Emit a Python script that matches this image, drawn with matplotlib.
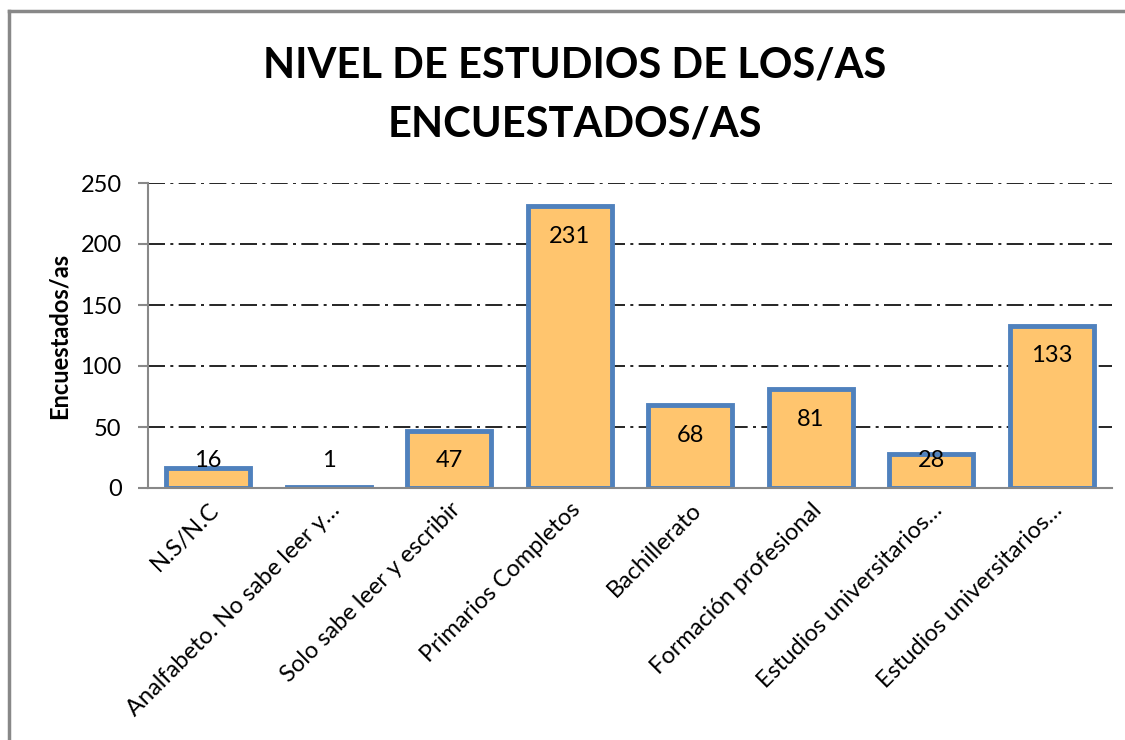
import matplotlib
matplotlib.use("Agg")
import matplotlib.pyplot as plt
from matplotlib.lines import Line2D

categories = ["N.S/N.C", "Analfabeto. No sabe leer y…", "Solo sabe leer y escribir",
              "Primarios Completos", "Bachillerato", "Formación profesional",
              "Estudios universitarios…", "Estudios universitarios…"]
values = [16, 1, 47, 231, 68, 81, 28, 133]
yticks = [0, 50, 100, 150, 200, 250]
title = "NIVEL DE ESTUDIOS DE LOS/AS\nENCUESTADOS/AS"
ylabel = "Encuestados/as"

plt.rcParams['font.family'] = ['Lato', 'DejaVu Sans']

W, H = 1125, 740
fig = plt.figure(figsize=(W / 100, H / 100), dpi=100)
ax = fig.add_axes([148 / W, 1 - 488 / H, (1112 - 148) / W, (488 - 183) / H])

x = list(range(len(categories)))
ax.bar(x, values, width=0.7, color="#FFC56E", edgecolor="#4F81BD", linewidth=3.5, zorder=3)
ax.set_xlim(-0.5, len(categories) - 0.5)
ax.set_ylim(0, 250)
ax.set_yticks(yticks)
ax.tick_params(axis='y', labelsize=17, length=7, color="#888888", width=1.5, pad=12)
ax.tick_params(axis='x', length=0, pad=8)
ax.set_xticks(x)
ax.set_xticklabels(categories, rotation=45, ha='right', rotation_mode='anchor', fontsize=17)

ax.yaxis.grid(True, color='black', linestyle=(0, (10.2, 3.2, 1.8, 3.2)), linewidth=1.2, zorder=0)
for s in ['top', 'right']:
    ax.spines[s].set_visible(False)
for s in ['left', 'bottom']:
    ax.spines[s].set_color("#888888")
    ax.spines[s].set_linewidth(1.5)
ax.spines['bottom'].set_zorder(4)

for xi, v in zip(x, values):
    ax.annotate(str(v), (xi, max(v, 47)), xytext=(0, -30), textcoords='offset pixels',
                ha='center', va='center', fontsize=17, zorder=5)

ax.set_ylabel(ylabel, fontsize=17, fontweight='bold', labelpad=7)

fig.text(575 / W, 1 - 95 / H, title, ha='center', va='center', fontsize=30,
         fontweight='bold', linespacing=1.7)

# chart area border
fig.add_artist(Line2D([9 / W, 1.0], [1 - 11 / H, 1 - 11 / H], color="#888888", linewidth=2.5,
                      transform=fig.transFigure))
fig.add_artist(Line2D([9 / W, 9 / W], [1 - 11 / H, 0.0], color="#888888", linewidth=2.5,
                      transform=fig.transFigure))

fig.savefig("out.png", dpi=100)
